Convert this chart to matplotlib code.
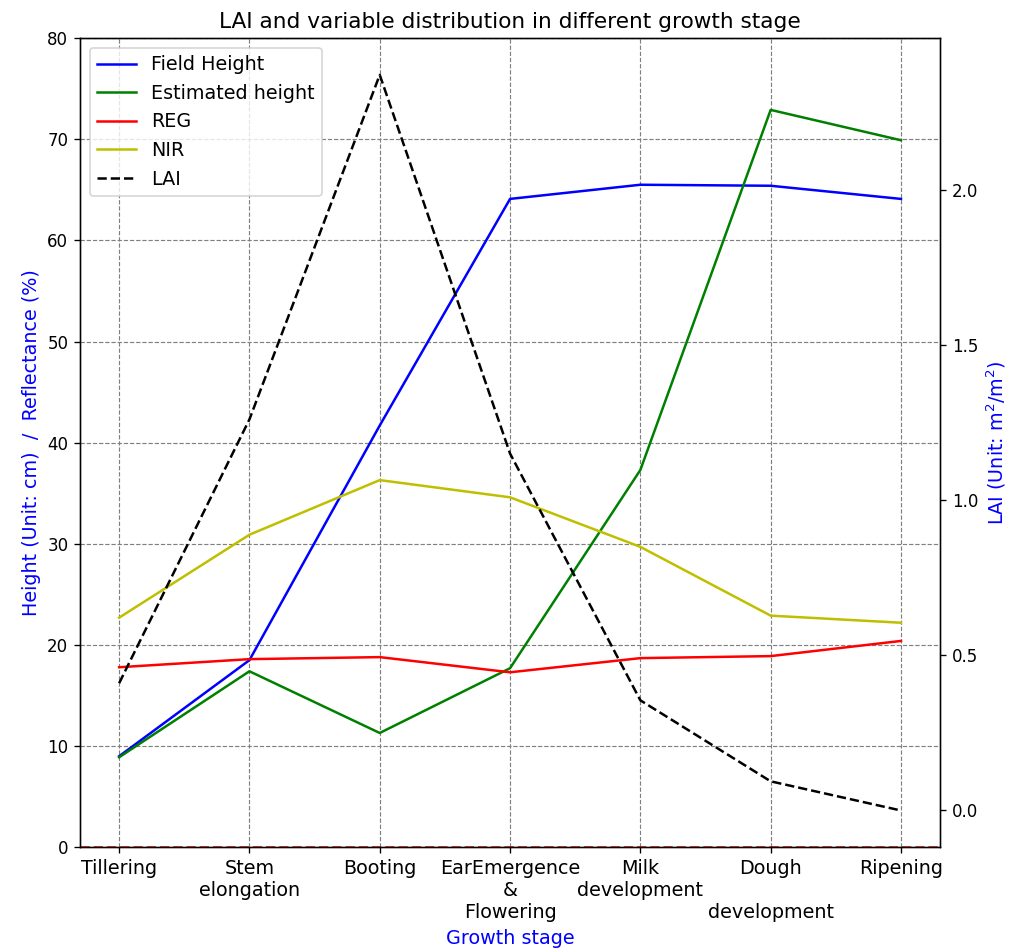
import numpy as np
import matplotlib
matplotlib.use('Agg')
import matplotlib.pyplot as plt

# Growth stages along the x axis
stages = ['Tillering', 'Stem\nelongation', 'Booting', 'EarEmergence\n&\nFlowering',
          'Milk\ndevelopment', 'Dough\n\ndevelopment', 'Ripening']

# Height (cm) and reflectance (%) per stage
field_height = [9.0, 18.5, 41.7, 64.1, 65.5, 65.4, 64.1]
est_height = [8.9, 17.4, 11.3, 17.7, 37.3, 72.9, 69.9]
reg = [17.8, 18.6, 18.8, 17.3, 18.7, 18.9, 20.4]
nir = [22.7, 30.9, 36.3, 34.6, 29.7, 22.9, 22.2]

# Leaf area index (m2/m2)
lai = [0.41, 1.26, 2.37, 1.15, 0.355, 0.094, 0.0]

x = np.arange(len(stages))

fig = plt.figure(figsize=(1013 / 120, 952 / 120), dpi=120)
ax1 = fig.add_axes([0.079, 0.110, 0.849, 0.850])
ax2 = ax1.twinx()

l1, = ax1.plot(x, field_height, 'b-', label='Field Height')
l2, = ax1.plot(x, est_height, 'g-', label='Estimated height')
l3, = ax1.plot(x, reg, 'r-', label='REG')
l4, = ax1.plot(x, nir, 'y-', label='NIR')
l5, = ax2.plot(x, lai, 'k--', label='LAI')
ax1.axhline(0, color='r', linestyle='--')

ax1.set_ylim(0, 80)
ax1.set_xticks(x)
ax1.set_xticklabels(stages, fontsize=11.5)
ax1.grid(True, linestyle='--', color='gray', linewidth=0.7)

ax1.set_title('LAI and variable distribution in different growth stage', fontsize=13)
ax1.set_xlabel('Growth stage', color='b', fontsize=11.5)
ax1.set_ylabel('Height (Unit: cm)  /  Reflectance (%)', color='b', fontsize=11.5)
ax2.set_ylabel('LAI (Unit: m$^2$/m$^2$)', color='b', fontsize=11.5)

ax1.legend(handles=[l1, l2, l3, l4, l5], loc='upper left', fontsize=11.5)

fig.savefig('out.png', dpi=120)
